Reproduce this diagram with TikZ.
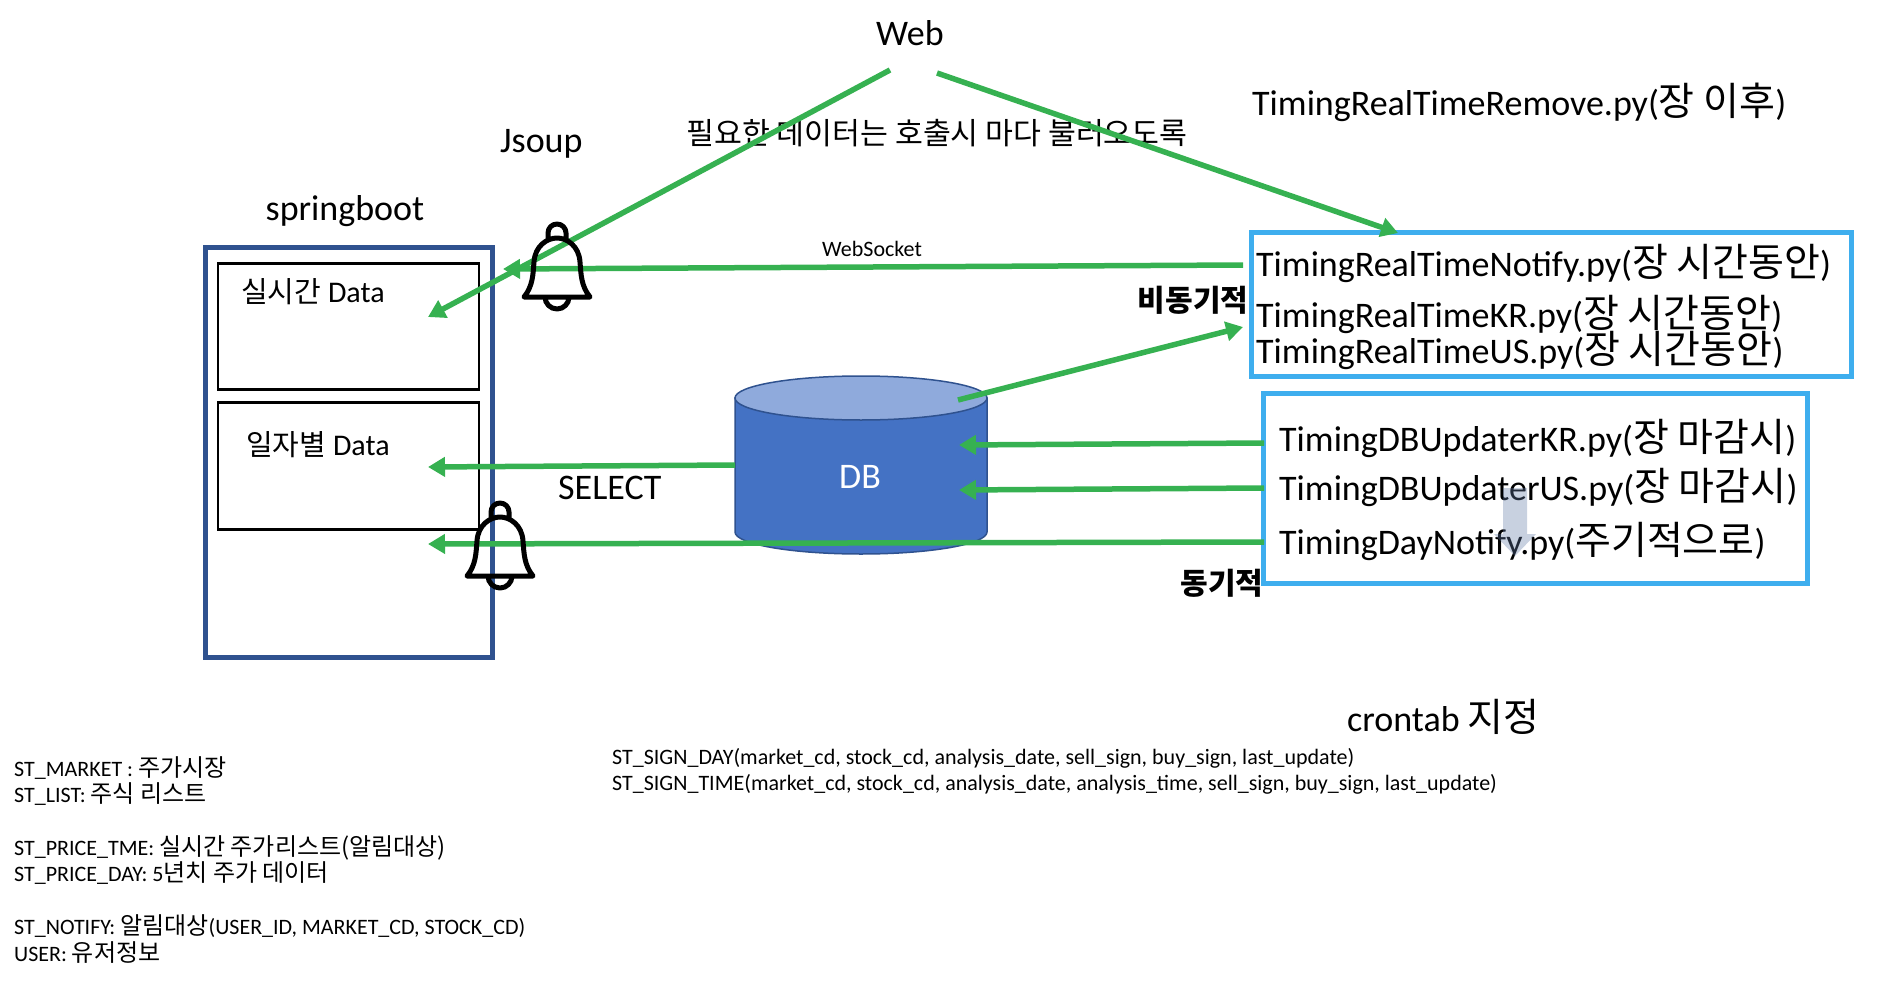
\documentclass[tikz,border=0pt]{standalone}
\usepackage{fontspec}
\setmainfont{Carlito}
\newfontfamily\krfont{Noto Sans CJK KR}
\usetikzlibrary{arrows.meta}
\definecolor{arrowgreen}{RGB}{54,177,81}
\definecolor{pyblue}{RGB}{62,174,238}
\definecolor{bootblue}{RGB}{47,82,143}
\definecolor{dbblue}{RGB}{68,114,196}
\definecolor{dbtop}{RGB}{143,170,220}
\newcommand{\kr}[1]{{\krfont\fontsize{\krsize}{\krsize}\selectfont #1}}
\newcommand{\krsize}{31}
\newcommand{\setsize}[2]{\renewcommand{\krsize}{#2}\fontsize{#1}{#1}\selectfont}
\tikzset{
    flow/.style={line width=5.5pt, arrowgreen},
    flowhead/.style={flow, -{Triangle[length=17pt,width=19pt]}},
    pybox/.style={draw=pyblue, line width=5pt, inner sep=0pt},
    databox/.style={draw=black, line width=2.2pt, inner sep=0pt},
    bigtxt/.style={inner sep=0pt, anchor=base west, font=\setsize{36}{39}},
    midtxt/.style={inner sep=0pt, anchor=base west, font=\setsize{30}{29}},
    listtxt/.style={inner sep=0pt, anchor=base west, font=\setsize{22}{24}},
    boldtxt/.style={inner sep=0pt, anchor=center, font=\setsize{30}{30}\bfseries},
    bellicon/.pic={
        \draw[line width=5pt, line join=round, line cap=round]
            (-9,15) -- (-9,9) arc (180:360:9) -- (9,15)
            (-33,73) .. controls (-24,62) and (-24,50) .. (-23,38)
            .. controls (-22,22) and (-10,14) .. (0,14)
            .. controls (10,14) and (22,22) .. (23,38)
            .. controls (24,50) and (24,62) .. (33,73) -- cycle
            (-12,73) arc (180:0:12);
    },
}
\begin{document}
\begin{tikzpicture}[x=1pt,y=-1pt]
    \useasboundingbox (0,0) rectangle (1888,1006);

    % springboot
    \node[draw=bootblue, line width=5pt, minimum width=287pt, minimum height=410pt, inner sep=0pt] (boot) at (348.5,452) {};
    \node[databox, minimum width=261pt, minimum height=126pt] (rtdata) at (348.5,326.5) {};
    \node[databox, minimum width=261pt, minimum height=127pt] (daydata) at (348.5,466) {};
    \coordinate (rtin) at (428,317);
    \coordinate (dayin) at (428,467);
    \coordinate (notein) at (428,544);
    \coordinate (sockin) at (503,269);
    \node[inner sep=0pt, anchor=base, font=\setsize{36}{39}] (boottxt) at (345,220) {springboot};
    \node[midtxt] (rttxt) at (241,302) {\kr{실시간} Data};
    \node[midtxt] (daytxt) at (246,455) {\kr{일자별} Data};

    % DB
    \filldraw[fill=dbblue, draw=bootblue, line width=1.5pt]
        (735,398) -- (735,532) arc (180:0:126 and 22) -- (987,398) -- cycle;
    \filldraw[fill=dbtop, draw=bootblue, line width=1.5pt] (861,398) ellipse (126 and 22);
    \node[text=white, inner sep=0pt, font=\setsize{36}{39}] (db) at (860,477) {DB};
    \coordinate (dbout) at (958,400);
    \coordinate (dbinA) at (959,445);
    \coordinate (dbinB) at (959,490);
    \coordinate (dbleft) at (735,465);

    % python jobs
    \node[pybox, minimum width=600pt, minimum height=144pt] (rtbox) at (1551,304) {};
    \node[pybox, minimum width=544pt, minimum height=190pt] (daybox) at (1535,488) {};
    \node[bigtxt] (notifytxt) at (1256,276) {TimingRealTimeNotify.py(\kr{장 시간동안})};
    \node[bigtxt] (krtxt) at (1256,327) {TimingRealTimeKR.py(\kr{장 시간동안})};
    \node[bigtxt] (ustxt) at (1256,363) {TimingRealTimeUS.py(\kr{장 시간동안})};
    \node[bigtxt] (upkrtxt) at (1279,451) {TimingDBUpdaterKR.py(\kr{장 마감시})};
    \node[bigtxt] (upustxt) at (1279,500) {TimingDBUpdaterUS.py(\kr{장 마감시})};
    \node[bigtxt] (daytxt2) at (1279,554) {TimingDayNotify.py(\kr{주기적으로})};
    \coordinate (rtout) at (1243,265);
    \coordinate (rtinB) at (1243,327);
    \coordinate (rtinA) at (1398,233);
    \coordinate (dayoutA) at (1264,443);
    \coordinate (dayoutB) at (1264,488);
    \coordinate (dayoutC) at (1264,542);

    % web
    \node[inner sep=0pt, anchor=base, font=\setsize{36}{39}] (web) at (910,46) {Web};
    \coordinate (webL) at (890,70);
    \coordinate (webR) at (937,73);
    \node[bigtxt] (jsoup) at (500,153) {Jsoup};
    \node[bigtxt] (removetxt) at (1252,116) {TimingRealTimeRemove.py(\kr{장 이후})};
    \node[inner sep=0pt, anchor=center, font=\setsize{30}{30.3}] (calltxt) at (937,133) {\kr{필요한 데이터는 호출시 마다 불러오도록}};
    \node[inner sep=0pt, anchor=base, font=\setsize{22}{20}] (socktxt) at (872,256) {WebSocket};
    \node[bigtxt] (selecttxt) at (558,499) {SELECT};
    \node[boldtxt] (asynctxt) at (1193,300) {\kr{\bfseries 비동기적}};
    \node[boldtxt] (synctxt) at (1222,583) {\kr{\bfseries 동기적}};

    % connectors
    \draw[flowhead] (webL) -- (rtin);
    \draw[flowhead] (webR) -- (rtinA);
    \draw[flowhead] (rtout) -- (sockin);
    \draw[flowhead] (dbout) -- (rtinB);
    \draw[flowhead] (dayoutA) -- (dbinA);
    \draw[flowhead] (dayoutB) -- (dbinB);
    \draw[flowhead] (dbleft) -- (dayin);
    \draw[flowhead] (dayoutC) -- (notein);

    % bells
    \pic at (557,224) {bellicon};
    \pic at (500,503) {bellicon};

    % grey arrow in the box
    \fill[fill={rgb,255:red,98;green,123;blue,166}, opacity=.35]
        (1503,488) -- (1527,488) -- (1527,534) -- (1536,534) -- (1515,556) -- (1494,534) -- (1503,534) -- cycle;

    % notes
    \node[inner sep=0pt, anchor=base west, font=\setsize{36}{39}] (crontxt) at (1347,731) {crontab \kr{지정}};
    \node[listtxt] (signday) at (612,764) {ST\_SIGN\_DAY(market\_cd, stock\_cd, analysis\_date, sell\_sign, buy\_sign, last\_update)};
    \node[listtxt] (signtime) at (612,790) {ST\_SIGN\_TIME(market\_cd, stock\_cd, analysis\_date, analysis\_time, sell\_sign, buy\_sign, last\_update)};
    \foreach \nm/\yy/\txt in {
        market/776/{ST\_MARKET : \kr{주가시장}},
        list/802/{ST\_LIST: \kr{주식 리스트}},
        pricetm/855/{ST\_PRICE\_TME: \kr{실시간 주가리스트(알림대상)}},
        priceday/881/{ST\_PRICE\_DAY: 5\kr{년치 주가 데이터}},
        notify/934/{ST\_NOTIFY: \kr{알림대상}(USER\_ID, MARKET\_CD, STOCK\_CD)},
        user/961/{USER: \kr{유저정보}}}
        \node[listtxt] (\nm) at (14,\yy) {\txt};
\end{tikzpicture}
\end{document}
